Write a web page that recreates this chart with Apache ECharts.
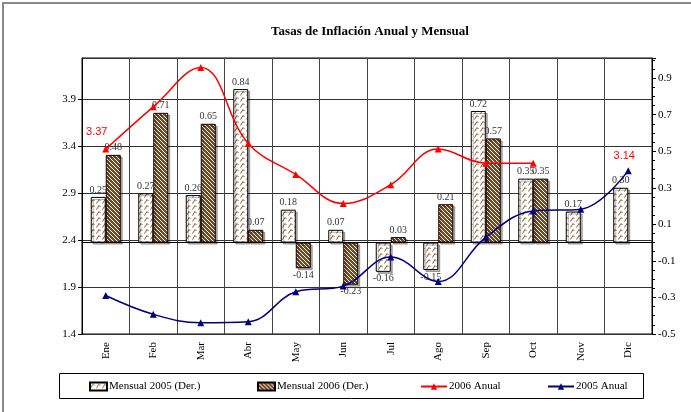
<!DOCTYPE html>
<html>
<head>
<meta charset="utf-8">
<script src="https://cdn.jsdelivr.net/npm/echarts@6/dist/echarts.min.js"></script>
<style>
  html, body { margin: 0; padding: 0; background: #fff; }
  #main { width: 691px; height: 412px; }
</style>
</head>
<body>
<div id="main"></div>
<script>
const months = ['Ene', 'Feb', 'Mar', 'Abr', 'May', 'Jun', 'Jul', 'Ago', 'Sep', 'Oct', 'Nov', 'Dic']
const mensual2005 = [0.25, 0.27, 0.26, 0.84, 0.18, 0.07, -0.16, -0.15, 0.72, 0.35, 0.17, 0.30]
const mensual2006 = [0.48, 0.71, 0.65, 0.07, -0.14, -0.23, 0.03, 0.21, 0.57, 0.35, null, null]
const anual2006 = [3.37, 3.82, 4.24, 3.43, 3.10, 2.79, 2.99, 3.37, 3.22, 3.22, null, null]
const anual2005 = [1.81, 1.61, 1.52, 1.53, 1.85, 1.91, 2.22, 1.96, 2.43, 2.71, 2.73, 3.14]

const serif = '"Liberation Serif", "DejaVu Serif", serif'
const sans = '"Liberation Sans", Arial, sans-serif'

// hatch fills like the original
function lightPattern() {
  const c = document.createElement('canvas')
  c.width = 6; c.height = 6
  const g = c.getContext('2d')
  g.fillStyle = '#fff'
  g.fillRect(0, 0, 6, 6)
  g.strokeStyle = '#8b5424'
  g.lineWidth = 1
  g.beginPath()
  g.moveTo(0.5, 5.5); g.lineTo(3, 1.5); g.lineTo(4.5, 3)
  g.stroke()
  return { image: c, repeat: 'repeat' }
}
function darkPattern() {
  const c = document.createElement('canvas')
  c.width = 4; c.height = 4
  const g = c.getContext('2d')
  g.fillStyle = '#7a4820'
  g.fillRect(0, 0, 4, 4)
  g.fillStyle = '#fff'
  for (let i = 0; i < 4; i++) g.fillRect(i, i, 1, 1)
  return { image: c, repeat: 'repeat' }
}

const barItems = arr => arr.map(v => v == null ? null : {
  value: v,
  label: { position: v < 0 ? 'bottom' : 'top' }
})

const barBase = {
  type: 'bar',
  yAxisIndex: 1,
  barWidth: 15,
  barGap: '0%',
  label: {
    show: true,
    distance: 2,
    fontFamily: serif,
    fontSize: 10,
    color: '#333',
    formatter: p => p.value.toFixed(2)
  }
}

const legendBase = {
  top: 381,
  padding: 0,
  itemGap: 4,
  textStyle: { fontFamily: serif, fontSize: 11, color: '#000', padding: [0, 0, 0, -3] }
}

const myChart = echarts.init(document.getElementById('main'))
myChart.setOption({
  animation: false,
  title: {
    text: 'Tasas de Inflación Anual y Mensual',
    left: 365,
    textAlign: 'center',
    top: 20,
    textStyle: { fontFamily: serif, fontSize: 13, fontWeight: 'bold', color: '#000' }
  },
  grid: { left: 82, right: 39, top: 58, bottom: 78, show: true, borderColor: '#000', borderWidth: 1 },
  legend: [
    Object.assign({ data: [{ name: 'Mensual 2005 (Der.)', icon: 'rect' }], left: 89, itemWidth: 17, itemHeight: 8 }, legendBase),
    Object.assign({ data: [{ name: 'Mensual 2006 (Der.)', icon: 'rect' }], left: 257, itemWidth: 17, itemHeight: 8 }, legendBase),
    Object.assign({ data: ['2006 Anual'], left: 420, itemWidth: 26, itemHeight: 8 }, legendBase),
    Object.assign({ data: ['2005 Anual'], left: 547, itemWidth: 26, itemHeight: 8 }, legendBase)
  ],
  graphic: [
    { type: 'rect', shape: { x: 3, y: 3, width: 720, height: 440 }, style: { fill: 'none', stroke: '#888', lineWidth: 2 }, silent: true },
    { type: 'rect', shape: { x: 59.5, y: 373.5, width: 584, height: 25 }, style: { fill: 'none', stroke: '#000', lineWidth: 1 }, silent: true }
  ],
  xAxis: {
    type: 'category',
    data: months,
    axisLine: { lineStyle: { color: '#000' } },
    axisTick: { lineStyle: { color: '#000' }, length: 4 },
    axisLabel: { rotate: 90, fontFamily: serif, fontSize: 11, color: '#000', margin: 8 },
    splitLine: { show: true, lineStyle: { color: '#444', width: 1 } }
  },
  yAxis: [
    {
      type: 'value',
      min: 1.4,
      max: 4.34,
      interval: 0.5,
      axisLine: { show: true, lineStyle: { color: '#000' } },
      axisTick: { show: true, length: 4, lineStyle: { color: '#000' } },
      axisLabel: { showMaxLabel: false, fontFamily: serif, fontSize: 11, color: '#000', margin: 6, formatter: v => v.toFixed(1) },
      splitLine: { show: true, lineStyle: { color: '#333', width: 1 } }
    },
    {
      type: 'value',
      min: -0.5,
      max: 1.01,
      interval: 0.2,
      position: 'right',
      axisLine: { show: true, lineStyle: { color: '#000' } },
      axisTick: { show: true, length: 4, lineStyle: { color: '#000' } },
      minorTick: { show: true, splitNumber: 4, length: 3, lineStyle: { color: '#000' } },
      axisLabel: { showMaxLabel: false, fontFamily: serif, fontSize: 11, color: '#000', margin: 6, formatter: v => v.toFixed(1) },
      splitLine: { show: false }
    }
  ],
  series: [
    Object.assign({}, barBase, {
      name: 'Mensual 2005 (Der.)',
      data: barItems(mensual2005),
      itemStyle: { color: lightPattern(), borderColor: '#000', borderWidth: 1, shadowColor: 'rgba(0,0,0,0.3)', shadowOffsetX: 2, shadowOffsetY: 2 }
    }),
    Object.assign({}, barBase, {
      name: 'Mensual 2006 (Der.)',
      data: barItems(mensual2006),
      itemStyle: { color: darkPattern(), borderColor: '#000', borderWidth: 1, shadowColor: 'rgba(0,0,0,0.3)', shadowOffsetX: 2, shadowOffsetY: 2 }
    }),
    {
      name: '2006 Anual',
      type: 'line',
      data: anual2006.map((v, i) => i === 0 ? {
        value: v,
        label: { show: true, position: 'top', offset: [-9, -3], color: '#ff0000', fontFamily: sans, fontSize: 11, formatter: p => p.value.toFixed(2) }
      } : v),
      smooth: 0.4,
      symbol: 'triangle',
      symbolSize: 7,
      itemStyle: { color: '#ff0000' },
      lineStyle: { color: '#ff0000', width: 1.5 }
    },
    {
      name: '2005 Anual',
      type: 'line',
      data: anual2005.map((v, i) => i === anual2005.length - 1 ? {
        value: v,
        label: { show: true, position: 'top', offset: [-4, -1], color: '#ff0000', fontFamily: sans, fontSize: 11, formatter: p => p.value.toFixed(2) }
      } : v),
      smooth: 0.4,
      symbol: 'triangle',
      symbolSize: 7,
      itemStyle: { color: '#000080' },
      lineStyle: { color: '#000080', width: 1.5 }
    }
  ]
})
</script>
</body>
</html>
